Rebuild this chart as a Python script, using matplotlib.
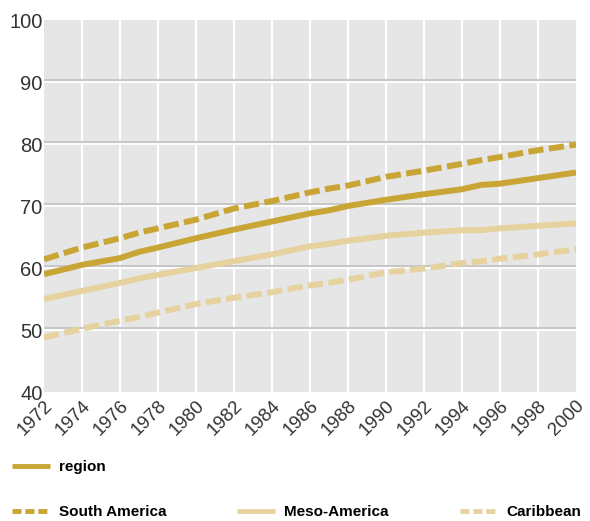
import matplotlib
matplotlib.use("Agg")
import matplotlib.pyplot as plt
import matplotlib.patheffects as pe

# values
years = [1972, 1974, 1976, 1977, 1978, 1980, 1982, 1984, 1986, 1987, 1988,
         1990, 1992, 1994, 1995, 1996, 1998, 2000]
region = [59.0, 60.5, 61.6, 62.6, 63.3, 64.8, 66.2, 67.5, 68.8, 69.3, 70.0,
          71.0, 71.9, 72.7, 73.4, 73.6, 74.5, 75.4]
south_america = [61.4, 63.3, 64.8, 65.7, 66.4, 67.8, 69.6, 70.8, 72.2, 72.8, 73.3,
                 74.7, 75.7, 76.8, 77.4, 77.9, 79.0, 79.9]
meso_america = [55.0, 56.3, 57.6, 58.3, 58.9, 60.0, 61.1, 62.2, 63.5, 63.9, 64.4,
                65.2, 65.7, 66.1, 66.1, 66.4, 66.8, 67.2]
caribbean = [48.8, 50.2, 51.5, 52.1, 52.8, 54.2, 55.2, 56.1, 57.2, 57.6, 58.1,
             59.3, 59.9, 60.8, 61.1, 61.5, 62.2, 63.0]

x_ticks = list(range(1972, 2001, 2))
y_ticks = [40, 50, 60, 70, 80, 90, 100]

DARK = '#c9a536'
LIGHT = '#e6d29f'
TEXT = '#333333'

plt.rcParams['font.family'] = ['Liberation Sans', 'DejaVu Sans']
plt.rcParams['lines.scale_dashes'] = False  # dash lengths in points

fig = plt.figure(figsize=(5.9, 5.21), dpi=100)
ax = fig.add_axes([44 / 590, 1 - 392 / 521, 532 / 590, 372 / 521])
ax.set_facecolor('#e6e6e6')

lw = 4.3
l_region, = ax.plot(years, region, color=DARK, lw=lw, solid_capstyle='butt')
l_sa, = ax.plot(years, south_america, color=DARK, lw=lw, dashes=(11, 3.9))
l_meso, = ax.plot(years, meso_america, color=LIGHT, lw=lw, solid_capstyle='butt')
l_car, = ax.plot(years, caribbean, color=LIGHT, lw=lw, dashes=(11, 3.9))

ax.set_xlim(1972, 2000)
ax.set_ylim(40, 100)
ax.set_xticks(x_ticks)
ax.set_yticks(y_ticks)

# white vertical grid, grey+white horizontal grid
for xv in x_ticks[1:-1]:
    ax.axvline(xv, color='white', lw=1.6, zorder=1)
for yv in y_ticks[1:-1]:
    ax.axhline(yv, color='white', lw=1.3, zorder=1,
               path_effects=[pe.SimpleLineShadow(offset=(0, 1.3), shadow_color='#c4c4c4', alpha=1),
                             pe.Normal()])
for line in (l_region, l_sa, l_meso, l_car):
    line.set_zorder(3)

for s in ax.spines.values():
    s.set_visible(False)
ax.tick_params(length=0)
ax.tick_params(axis='y', pad=1, labelsize=14.5, labelcolor=TEXT)
ax.tick_params(axis='x', pad=4, labelsize=13.5, labelcolor=TEXT)
ax.set_xticklabels([str(y) for y in x_ticks], rotation=45, ha='right', va='top',
                   rotation_mode='anchor')

legend_kw = dict(frameon=False, handlelength=2.5, handletextpad=0.55, borderpad=0,
                 borderaxespad=0, prop={'weight': 'bold', 'size': 11})
entries = [
    (l_region, 'region', 12, 467),
    (l_sa, 'South America', 12, 512),
    (l_meso, 'Meso-America', 237, 512),
    (l_car, 'Caribbean', 460, 512),
]
for handle, label, px, py in entries:
    leg = fig.legend([handle], [label], loc='center left',
                     bbox_to_anchor=(px / 590, 1 - py / 521), **legend_kw)
    for t in leg.get_texts():
        t.set_color('black')
    for h in leg.legend_handles:
        h.set_linewidth(3.5)
        if label in ('South America', 'Caribbean'):
            h.set_dashes((6.5, 2.8))

fig.savefig('out.png', dpi=100)
